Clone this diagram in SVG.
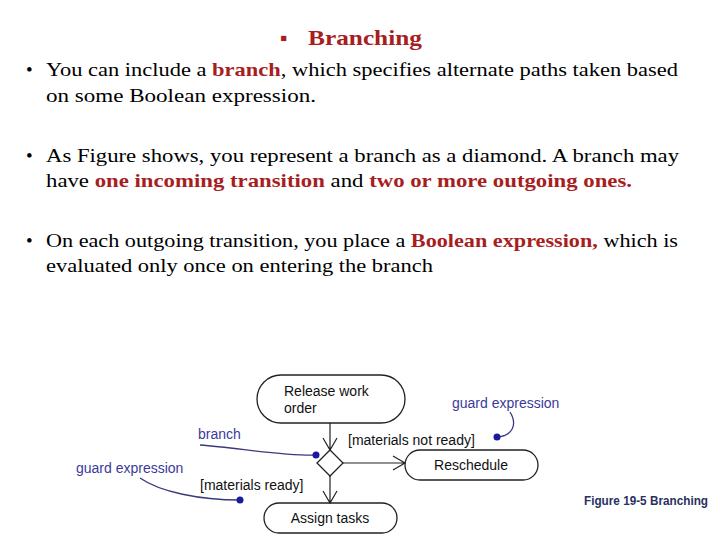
<svg xmlns="http://www.w3.org/2000/svg" width="720" height="540" viewBox="0 0 720 540">
<style>
.b{font-family:"Liberation Serif",serif;font-size:19px;fill:#000}
.r{fill:#a81e1e;font-weight:bold}
.n{fill:#fff;stroke:#222;stroke-width:1.3}
.t{font-family:"Liberation Sans",Arial,sans-serif;font-size:14px;fill:#111}
.g{font-family:"Liberation Sans",Arial,sans-serif;font-size:14px;fill:#3a3a9a}
.c{fill:none;stroke:#222;stroke-width:1.2}
.a{fill:none;stroke:#3a3a7a;stroke-width:1.3}
</style>
<rect width="720" height="540" fill="#fff"/>
<text x="280" y="45" style="font-family:'Liberation Serif',serif;fill:#a81e1e;font-weight:bold;font-size:21px">▪</text>
<text x="308" y="45" style="font-family:'Liberation Serif',serif;fill:#a81e1e;font-weight:bold;font-size:21px" textLength="114" lengthAdjust="spacingAndGlyphs">Branching</text>
<g class="b">
<text x="26" y="76">•</text><text x="46" y="76" textLength="632" lengthAdjust="spacingAndGlyphs">You can include a <tspan class="r">branch</tspan>, which specifies alternate paths taken based</text>
<text x="46" y="102" textLength="270" lengthAdjust="spacingAndGlyphs">on some Boolean expression.</text>
<text x="26" y="162">•</text><text x="46" y="162" textLength="633" lengthAdjust="spacingAndGlyphs">As Figure shows, you represent a branch as a diamond. A branch may</text>
<text x="46" y="187" textLength="586" lengthAdjust="spacingAndGlyphs">have <tspan class="r">one incoming transition</tspan> and <tspan class="r">two or more outgoing ones.</tspan></text>
<text x="26" y="247">•</text><text x="46" y="247" textLength="632" lengthAdjust="spacingAndGlyphs">On each outgoing transition, you place a <tspan class="r">Boolean expression,</tspan> which is</text>
<text x="46" y="272" textLength="387" lengthAdjust="spacingAndGlyphs">evaluated only once on entering the branch</text>
</g>
<g id="release"><rect class="n" x="257" y="375" width="148" height="48" rx="24"/><text class="t" x="284" y="396">Release work</text><text class="t" x="284" y="413">order</text></g>
<g id="branch"><polygon class="n" points="330,450 343,463 330,476 317,463"/></g>
<g id="reschedule"><rect class="n" x="405" y="450" width="133" height="30" rx="15"/><text class="t" x="471" y="470" text-anchor="middle">Reschedule</text></g>
<g id="assign"><rect class="n" x="264" y="503" width="133" height="30" rx="15"/><text class="t" x="330" y="523" text-anchor="middle">Assign tasks</text></g>
<g id="connectors">
<path class="c" d="M330,423V450M323,438L330,450L337,438"/>
<path class="c" d="M343,463H405M393,456L405,463L393,470"/>
<path class="c" d="M330,476V503M323,491L330,503L337,491"/>
<text class="t" x="348" y="445">[materials not ready]</text>
<text class="t" x="200" y="490">[materials ready]</text>
</g>
<g id="annotations">
<text class="g" x="198" y="439">branch</text>
<path class="a" d="M200,445C240,448 280,456 316,455"/>
<circle cx="316" cy="455" r="3.5" fill="#1a1aa0"/>
<text class="g" x="76" y="473">guard expression</text>
<path class="a" d="M140,478C160,492 200,500 240,500"/>
<circle cx="240" cy="500" r="3.5" fill="#1a1aa0"/>
<text class="g" x="452" y="408">guard expression</text>
<path class="a" d="M510,412C518,425 512,436 497,437"/>
<circle cx="497" cy="437" r="3.5" fill="#1a1aa0"/>
</g>
<text x="584" y="505" style="font-family:'Liberation Sans',sans-serif;font-size:12px;font-weight:bold;fill:#2a3060" textLength="124" lengthAdjust="spacingAndGlyphs">Figure 19-5 Branching</text>
</svg>
